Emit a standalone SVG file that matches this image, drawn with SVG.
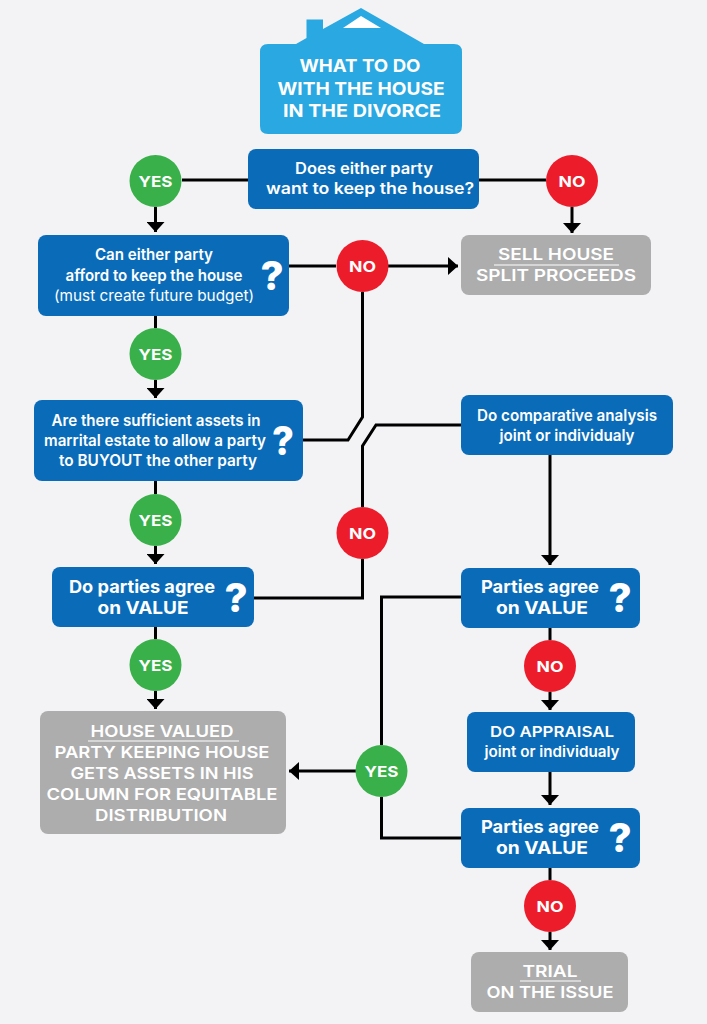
<svg xmlns="http://www.w3.org/2000/svg" width="707" height="1024" viewBox="0 0 707 1024">
<style>
text{font-family:"Inter","Liberation Sans",sans-serif;fill:#fff;text-anchor:middle;font-weight:600}
.b{fill:#0a6cb9}.g{fill:#adadad}.y{fill:#39b04a}.n{fill:#ec1c2b}
.t{font-size:16px}.h{font-size:18px;font-weight:700}.c{font-size:15px;font-weight:700}.q{font-size:40px;font-weight:800}.r{font-weight:400;font-size:15px}
.l{fill:none;stroke:#000;stroke-width:3}
.u{stroke:#fff;stroke-width:1.2}
</style>
<defs><marker id="d" markerUnits="userSpaceOnUse" markerWidth="10" markerHeight="18" viewBox="0 0 10 18" refX="10" refY="9" orient="auto"><path d="M0 0L10 9L0 18Z" fill="#000"/></marker></defs>
<rect width="707" height="1024" fill="#f3f3f6"/>
<g id="connectors">
<path class="l" d="M182 180H248M478 180H546"/>
<path class="l" d="M155.500 207V232" marker-end="url(#d)"/>
<path class="l" d="M572 207V233" marker-end="url(#d)"/>
<path class="l" d="M289 266H336M388 266H458" marker-end="url(#d)"/>
<path class="l" d="M155.500 316V328M155.500 380V398" marker-end="url(#d)"/>
<path class="l" d="M362.500 292V417L348 440H303"/>
<path class="l" d="M155.500 481V494M155.500 546V564" marker-end="url(#d)"/>
<path class="l" d="M461 425H376L362.500 446V507M362.500 559V598H254"/>
<path class="l" d="M155.500 627V639M155.500 691V709" marker-end="url(#d)"/>
<path class="l" d="M550 455V565" marker-end="url(#d)"/>
<path class="l" d="M461 597H381.500V745M381.500 797V838H461"/>
<path class="l" d="M356 771H289" marker-end="url(#d)"/>
<path class="l" d="M550 627V640M550 692V710" marker-end="url(#d)"/>
<path class="l" d="M550 772V805" marker-end="url(#d)"/>
<path class="l" d="M550 867V880M550 932V950" marker-end="url(#d)"/>
</g>
<g id="title">
<path d="M268 44H296L306.500 38V19.500H323V29L361 8L424 44H454Q462 44 462 52V126Q462 134 454 134H268Q260 134 260 126V52Q260 44 268 44Z" fill="#29a8e2"/>
<path d="M343 28L361 16L381 28Z" fill="#fff"/>
<text class="h" x="360" y="72" textLength="121" lengthAdjust="spacingAndGlyphs">WHAT TO DO</text>
<text class="h" x="361" y="95" textLength="167" lengthAdjust="spacingAndGlyphs">WITH THE HOUSE</text>
<text class="h" x="362" y="117" textLength="158" lengthAdjust="spacingAndGlyphs">IN THE DIVORCE</text>
</g>
<g id="keep"><rect class="b" x="248" y="149" width="231" height="60" rx="8"/>
<text class="t" x="364" y="174" textLength="138" lengthAdjust="spacingAndGlyphs">Does either party</text>
<text class="t" x="370" y="194" textLength="208" lengthAdjust="spacingAndGlyphs">want to keep the house?</text></g>
<g id="yes1"><circle class="y" cx="155.500" cy="181" r="26"/><text class="c" x="155.500" y="187" textLength="34" lengthAdjust="spacingAndGlyphs">YES</text></g>
<g id="no1"><circle class="n" cx="572" cy="181" r="26"/><text class="c" x="572" y="187" textLength="27" lengthAdjust="spacingAndGlyphs">NO</text></g>
<g id="afford"><rect class="b" x="38" y="235" width="251" height="81" rx="8"/>
<text class="t" x="154" y="260" textLength="118" lengthAdjust="spacingAndGlyphs">Can either party</text>
<text class="t" x="154" y="281" textLength="177" lengthAdjust="spacingAndGlyphs">afford to keep the house</text>
<text class="r" x="154" y="301" textLength="200" lengthAdjust="spacingAndGlyphs">(must create future budget)</text>
<text class="q" x="272" y="290">?</text></g>
<g id="no2"><circle class="n" cx="362.500" cy="266" r="26"/><text class="c" x="362.500" y="272" textLength="27" lengthAdjust="spacingAndGlyphs">NO</text></g>
<g id="sell"><rect class="g" x="461" y="235" width="190" height="60" rx="8"/>
<text class="t" x="556" y="260" textLength="116" lengthAdjust="spacingAndGlyphs">SELL HOUSE</text><path class="u" d="M494 265H619"/>
<text class="t" x="556" y="281" textLength="160" lengthAdjust="spacingAndGlyphs">SPLIT PROCEEDS</text></g>
<g id="yes2"><circle class="y" cx="155.500" cy="354" r="26"/><text class="c" x="155.500" y="360" textLength="34" lengthAdjust="spacingAndGlyphs">YES</text></g>
<g id="assets"><rect class="b" x="34" y="400" width="269" height="81" rx="8"/>
<text class="t" x="156" y="426" textLength="209" lengthAdjust="spacingAndGlyphs">Are there sufficient assets in</text>
<text class="t" x="155" y="446" textLength="222" lengthAdjust="spacingAndGlyphs">marrital estate to allow a party</text>
<text class="t" x="158" y="466" textLength="198" lengthAdjust="spacingAndGlyphs">to BUYOUT the other party</text>
<text class="q" x="283" y="455" textLength="22" lengthAdjust="spacingAndGlyphs">?</text></g>
<g id="analysis"><rect class="b" x="461" y="395" width="212" height="60" rx="8"/>
<text class="t" x="567" y="421" textLength="180" lengthAdjust="spacingAndGlyphs">Do comparative analysis</text>
<text class="t" x="567" y="441" textLength="135" lengthAdjust="spacingAndGlyphs">joint or individualy</text></g>
<g id="yes3"><circle class="y" cx="155.500" cy="520" r="26"/><text class="c" x="155.500" y="526" textLength="34" lengthAdjust="spacingAndGlyphs">YES</text></g>
<g id="no3"><circle class="n" cx="362.500" cy="533" r="26"/><text class="c" x="362.500" y="539" textLength="27" lengthAdjust="spacingAndGlyphs">NO</text></g>
<g id="value1"><rect class="b" x="52" y="567" width="202" height="60" rx="8"/>
<text class="h" x="142" y="593" textLength="146" lengthAdjust="spacingAndGlyphs">Do parties agree</text>
<text class="h" x="143" y="614" textLength="91" lengthAdjust="spacingAndGlyphs">on VALUE</text>
<text class="q" x="236" y="612">?</text></g>
<g id="value2"><rect class="b" x="461" y="568" width="179" height="60" rx="8"/>
<text class="h" x="540" y="593" textLength="118" lengthAdjust="spacingAndGlyphs">Parties agree</text>
<text class="h" x="542" y="614" textLength="92" lengthAdjust="spacingAndGlyphs">on VALUE</text>
<text class="q" x="620" y="612">?</text></g>
<g id="yes4"><circle class="y" cx="155.500" cy="665" r="26"/><text class="c" x="155.500" y="671" textLength="34" lengthAdjust="spacingAndGlyphs">YES</text></g>
<g id="no4"><circle class="n" cx="550" cy="666" r="26"/><text class="c" x="550" y="672" textLength="27" lengthAdjust="spacingAndGlyphs">NO</text></g>
<g id="valued"><rect class="g" x="40" y="711" width="246" height="123" rx="8"/>
<text class="t" x="162" y="737" textLength="143" lengthAdjust="spacingAndGlyphs">HOUSE VALUED</text><path class="u" d="M88 741H239"/>
<text class="t" x="162" y="758" textLength="215" lengthAdjust="spacingAndGlyphs">PARTY KEEPING HOUSE</text>
<text class="t" x="162" y="779" textLength="183" lengthAdjust="spacingAndGlyphs">GETS ASSETS IN HIS</text>
<text class="t" x="162" y="800" textLength="231" lengthAdjust="spacingAndGlyphs">COLUMN FOR EQUITABLE</text>
<text class="t" x="161" y="821" textLength="132" lengthAdjust="spacingAndGlyphs">DISTRIBUTION</text></g>
<g id="appraisal"><rect class="b" x="467" y="712" width="168" height="60" rx="8"/>
<text class="t" x="552" y="737" style="font-size:15px" textLength="124" lengthAdjust="spacingAndGlyphs">DO APPRAISAL</text>
<text class="t" x="552" y="757" style="font-size:15px" textLength="135" lengthAdjust="spacingAndGlyphs">joint or individualy</text></g>
<g id="yes5"><circle class="y" cx="381.500" cy="771" r="26"/><text class="c" x="381.500" y="777" textLength="34" lengthAdjust="spacingAndGlyphs">YES</text></g>
<g id="value3"><rect class="b" x="461" y="808" width="179" height="60" rx="8"/>
<text class="h" x="540" y="833" textLength="118" lengthAdjust="spacingAndGlyphs">Parties agree</text>
<text class="h" x="542" y="854" textLength="92" lengthAdjust="spacingAndGlyphs">on VALUE</text>
<text class="q" x="620" y="852">?</text></g>
<g id="no5"><circle class="n" cx="550" cy="906" r="26"/><text class="c" x="550" y="912" textLength="27" lengthAdjust="spacingAndGlyphs">NO</text></g>
<g id="trial"><rect class="g" x="471" y="952" width="157" height="60" rx="8"/>
<text class="t" x="550" y="977" textLength="55" lengthAdjust="spacingAndGlyphs">TRIAL</text><path class="u" d="M520 981H581"/>
<text class="t" x="550" y="998" textLength="127" lengthAdjust="spacingAndGlyphs">ON THE ISSUE</text></g>
</svg>
